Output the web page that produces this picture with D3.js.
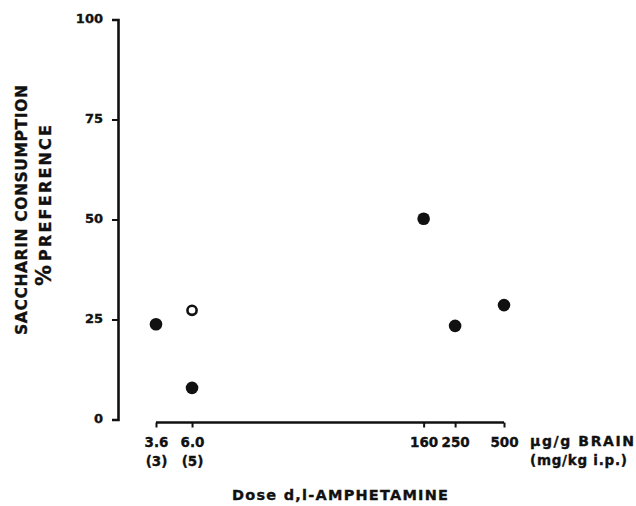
<!DOCTYPE html>
<html>
<head>
<meta charset="utf-8">
<script src="https://cdn.jsdelivr.net/npm/d3@7"></script>
<style>
  html, body { margin: 0; padding: 0; background: #fff; }
  svg { display: block; }
  text { font-family: "DejaVu Sans", sans-serif; font-weight: bold; fill: #111; stroke: #111; stroke-width: 0.35px; }
</style>
</head>
<body>
<svg width="636" height="506"></svg>
<script>
// dose ticks, brain level (µg/g) and injected dose (mg/kg i.p.)
const doseTicks = [3.6, 6.0, 160, 250, 500];
const doseLabels = ["3.6", "6.0", "160", "250", "500"];
const mgkgLabels = ["(3)", "(5)", "", "", ""];
const prefTicks = [0, 25, 50, 75, 100];

// points
const pointDose = [3.6, 6.0, 6.0, 160, 250, 500];
const pointPref = [23.8, 27.3, 7.9, 50.2, 23.4, 28.6];
const pointOpen = [false, true, false, false, false, false];

const ink = "#111";
const svg = d3.select("svg");

const x = d3.scaleLog().domain([3.6, 500]).range([156, 504]);
const y = d3.scaleLinear().domain([0, 100]).range([419.5, 19.5]);

// y axis
const yAxis = svg.append("g")
  .attr("transform", "translate(118,0)")
  .call(d3.axisLeft(y).tickValues(prefTicks).tickSize(6).tickSizeOuter(6).tickPadding(9));
yAxis.select(".domain").attr("stroke", ink).attr("stroke-width", 2.6);
yAxis.selectAll(".tick line").attr("stroke", ink).attr("stroke-width", 2);
yAxis.selectAll(".tick text")
  .attr("fill", ink)
  .style("font-size", "13px")
  .style("font-family", "DejaVu Sans, sans-serif")
  .style("font-weight", "bold")
  .attr("dy", "0.2em");

// x axis
const xAxis = svg.append("g")
  .attr("transform", "translate(0,422.5)")
  .call(d3.axisBottom(x).tickValues(doseTicks).tickSize(5).tickSizeOuter(0)
    .tickFormat((d, i) => doseLabels[i]));
xAxis.select(".domain").attr("stroke", ink).attr("stroke-width", 2.6)
  .attr("d", `M${x(3.6)},0H${x(500)}`);
xAxis.selectAll(".tick line").attr("stroke", ink).attr("stroke-width", 2);
xAxis.selectAll(".tick text")
  .attr("fill", ink)
  .attr("y", 24)
  .attr("dy", null)
  .style("font-size", "13.5px")
  .style("font-family", "DejaVu Sans, sans-serif")
  .style("font-weight", "bold");
xAxis.selectAll(".tick").filter((d, i) => mgkgLabels[i] !== "")
  .append("text")
  .attr("y", 43)
  .attr("text-anchor", "middle")
  .style("font-size", "13.5px")
  .text(d => mgkgLabels[doseTicks.indexOf(d)]);

// unit labels to the right of the axis
svg.append("text")
  .attr("x", 530).attr("y", 446)
  .attr("textLength", 104).attr("lengthAdjust", "spacing")
  .style("font-size", "14px")
  .text("µg/g BRAIN");
svg.append("text")
  .attr("x", 530).attr("y", 465)
  .attr("textLength", 97).attr("lengthAdjust", "spacing")
  .style("font-size", "13.5px")
  .text("(mg/kg i.p.)");

// x title
svg.append("text")
  .attr("x", 232).attr("y", 500)
  .attr("textLength", 216).attr("lengthAdjust", "spacing")
  .style("font-size", "14.5px")
  .text("Dose  d,l-AMPHETAMINE");

// y title, two lines
svg.append("text")
  .attr("transform", "translate(27,210) rotate(-90)")
  .attr("text-anchor", "middle")
  .attr("textLength", 250).attr("lengthAdjust", "spacing")
  .style("font-size", "15.5px")
  .text("SACCHARIN  CONSUMPTION");
const t2 = svg.append("text")
  .attr("transform", "translate(51,286) rotate(-90)")
  .attr("text-anchor", "start")
  .style("font-size", "16px");
t2.append("tspan").style("font-size", "21px").text("%");
t2.append("tspan").attr("dx", 4).style("letter-spacing", "2.2px").text("PREFERENCE");

// points
svg.append("g")
  .selectAll("circle")
  .data(pointDose)
  .join("circle")
  .attr("cx", d => x(d))
  .attr("cy", (d, i) => y(pointPref[i]))
  .attr("r", (d, i) => pointOpen[i] ? 4.6 : 6.3)
  .attr("fill", (d, i) => pointOpen[i] ? "#fff" : ink)
  .attr("stroke", ink)
  .attr("stroke-width", (d, i) => pointOpen[i] ? 2.6 : 0);
</script>
</body>
</html>
